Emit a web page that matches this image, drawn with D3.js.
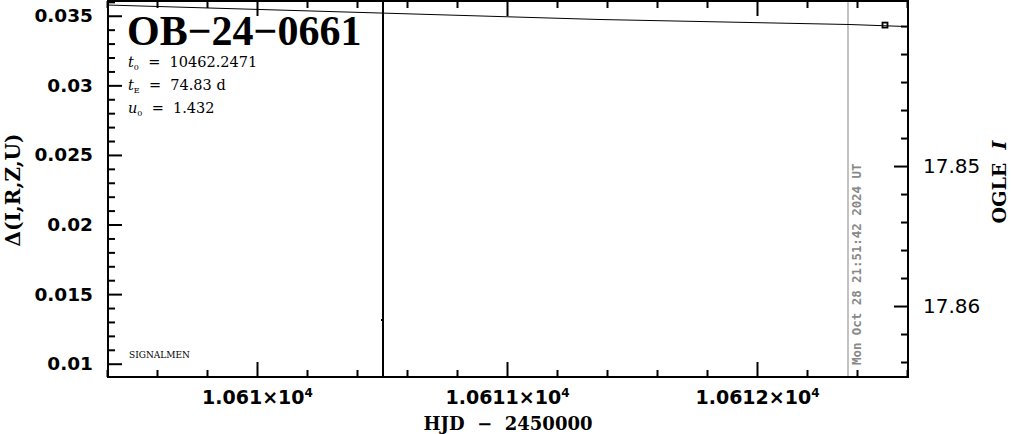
<!DOCTYPE html>
<html>
<head>
<meta charset="utf-8">
<script src="https://cdn.jsdelivr.net/npm/d3@7"></script>
<style>
  html, body { margin: 0; padding: 0; background: #fff; }
  svg { display: block; }
</style>
</head>
<body>
<script>
// ---- data ----
const modelHJD   = [10609.404, 10610.504, 10611.372, 10612.372, 10612.604];
const modelDelta = [0.03577, 0.03519, 0.03473, 0.03437, 0.03422];
const obsHJD   = [10610.504, 10612.512];
const obsDelta = [0.01314, 0.03433];
const obsErr   = [0.03, 0.0];
const xMajorTicks = [10610, 10611, 10612];
const xTickLabels = ["1.061×10", "1.0611×10", "1.0612×10"];
const xTickExp = "4";
const yLeftTicks = [0.01, 0.015, 0.02, 0.025, 0.03, 0.035];
const yLeftLabels = ["0.01", "0.015", "0.02", "0.025", "0.03", "0.035"];
const yRightTicks = [17.85, 17.86];
const yRightLabels = ["17.85", "17.86"];
const nowHJD = 10612.364;
const nowText = "Mon Oct 28 21:51:42 2024 UT";
const eventName = "OB−24−0661";
const paramNames = ["t", "t", "u"];
const paramSubs = ["0", "E", "0"];
const paramValues = ["  =  10462.2471", "  =  74.83 d", "  =  1.432"];

// ---- layout ----
const W = 1011, H = 434;
const L = 108, R = 908, T = 1, B = 377;

const svg = d3.select("body").append("svg").attr("width", W).attr("height", H);

const x = d3.scaleLinear().domain([10609.404, 10612.604]).range([L, R]);
const yL = d3.scaleLinear().domain([0.009045, 0.03606]).range([B, T]);
const yR = d3.scaleLinear().domain([17.86507, 17.83821]).range([B, T]);

const xMinor = d3.range(10609.4, 10612.61, 0.2).filter(v => !xMajorTicks.some(m => Math.abs(m - v) < 1e-6));
const yLMinor = d3.range(0.010, 0.0361, 0.001).filter(v => !yLeftTicks.some(m => Math.abs(m - v) < 1e-7));
const yRMinor = d3.range(17.838, 17.8651, 0.002).filter(v => !yRightTicks.some(m => Math.abs(m - v) < 1e-6));

svg.append("defs").append("clipPath").attr("id", "clip")
  .append("rect").attr("x", L).attr("y", T).attr("width", R - L).attr("height", B - T);

function styleAxis(g) {
  g.select(".domain").remove();
  g.selectAll("line").attr("stroke", "#000").attr("stroke-width", 2);
}

// bottom axis
svg.append("g").attr("transform", `translate(0,${B})`)
  .call(d3.axisBottom(x).tickValues(xMinor).tickSize(-7).tickFormat(""))
  .call(styleAxis);
const xb = svg.append("g").attr("transform", `translate(0,${B})`)
  .call(d3.axisBottom(x).tickValues(xMajorTicks).tickSize(-15).tickPadding(14)
        .tickFormat((d, i) => xTickLabels[i]))
  .call(styleAxis);
xb.selectAll("text")
  .attr("font-family", "DejaVu Sans").attr("font-weight", "bold").attr("font-size", 19)
  .attr("fill", "#000")
  .attr("text-anchor", "middle")
  .each(function (d, i) {
    const t = d3.select(this);
    t.text(null);
    t.append("tspan").text(xTickLabels[i]);
    t.append("tspan").attr("font-size", 12).attr("dy", -7).text(xTickExp);
  });

// top axis (mirrored ticks)
svg.append("g").attr("transform", `translate(0,${T})`)
  .call(d3.axisTop(x).tickValues(xMinor).tickSize(-7).tickFormat(""))
  .call(styleAxis);
svg.append("g").attr("transform", `translate(0,${T})`)
  .call(d3.axisTop(x).tickValues(xMajorTicks).tickSize(-15).tickFormat(""))
  .call(styleAxis);

// left axis
svg.append("g").attr("transform", `translate(${L},0)`)
  .call(d3.axisLeft(yL).tickValues(yLMinor).tickSize(-7).tickFormat(""))
  .call(styleAxis);
const yl = svg.append("g").attr("transform", `translate(${L},0)`)
  .call(d3.axisLeft(yL).tickValues(yLeftTicks).tickSize(-14).tickPadding(15)
        .tickFormat((d, i) => yLeftLabels[i]))
  .call(styleAxis);
yl.selectAll("text")
  .attr("font-family", "DejaVu Sans").attr("font-weight", "bold").attr("font-size", 18.5)
  .attr("fill", "#000");

// right axis
svg.append("g").attr("transform", `translate(${R},0)`)
  .call(d3.axisRight(yR).tickValues(yRMinor).tickSize(-7).tickFormat(""))
  .call(styleAxis);
const yr = svg.append("g").attr("transform", `translate(${R},0)`)
  .call(d3.axisRight(yR).tickValues(yRightTicks).tickSize(-14).tickPadding(15)
        .tickFormat((d, i) => yRightLabels[i]))
  .call(styleAxis);
yr.selectAll("text")
  .attr("font-family", "DejaVu Sans").attr("font-size", 20)
  .attr("fill", "#000");

// plot contents
const plot = svg.append("g").attr("clip-path", "url(#clip)");

// "now" line
plot.append("line")
  .attr("x1", x(nowHJD)).attr("x2", x(nowHJD)).attr("y1", T).attr("y2", B)
  .attr("stroke", "#999").attr("stroke-width", 1.2);

// model curve
const modelData = modelHJD.map((t, i) => [t, modelDelta[i]]);
plot.append("path")
  .datum(modelData)
  .attr("d", d3.line().x(d => x(d[0])).y(d => yL(d[1])))
  .attr("fill", "none").attr("stroke", "#000").attr("stroke-width", 1);

// observations with error bars
const obs = obsHJD.map((t, i) => ({ t, d: obsDelta[i], e: obsErr[i] }));
plot.selectAll(".err").data(obs.filter(o => o.e > 0)).join("line")
  .attr("x1", o => x(o.t)).attr("x2", o => x(o.t))
  .attr("y1", o => yL(o.d - o.e)).attr("y2", o => yL(o.d + o.e))
  .attr("stroke", "#000").attr("stroke-width", 2);
plot.selectAll(".pt").data(obs).join("rect")
  .attr("x", o => x(o.t) - (o.e > 0 ? 2 : 2.5))
  .attr("y", o => yL(o.d) - (o.e > 0 ? 1 : 2.5))
  .attr("width", o => o.e > 0 ? 3 : 5)
  .attr("height", o => o.e > 0 ? 2 : 5)
  .attr("fill", o => o.e > 0 ? "#000" : "none")
  .attr("stroke", "#000").attr("stroke-width", o => o.e > 0 ? 0 : 1.8);

// frame
svg.append("rect").attr("x", L).attr("y", T).attr("width", R - L).attr("height", B - T)
  .attr("fill", "none").attr("stroke", "#000").attr("stroke-width", 2);

// rotated date text
svg.append("text")
  .attr("transform", `translate(${x(nowHJD) + 13},365) rotate(-90)`)
  .attr("font-family", "DejaVu Sans Mono").attr("font-weight", "bold").attr("font-size", 12.4)
  .attr("fill", "#888")
  .text(nowText);

// title and parameters
svg.append("text").attr("x", 127).attr("y", 45)
  .attr("font-family", "Liberation Serif").attr("font-weight", "bold").attr("font-size", 42)
  .attr("fill", "#000").text(eventName);

const baselines = [67, 90, 113];
paramNames.forEach((n, i) => {
  const t = svg.append("text").attr("x", 128).attr("y", baselines[i])
    .attr("font-family", "DejaVu Serif").attr("font-size", 14.5).attr("fill", "#000")
    .attr("xml:space", "preserve");
  t.append("tspan").attr("font-style", "italic").text(n);
  t.append("tspan").attr("font-size", 8).attr("dy", 3).text(paramSubs[i]);
  t.append("tspan").attr("dy", -3).text(paramValues[i]);
});

svg.append("text").attr("x", 129).attr("y", 358)
  .attr("font-family", "DejaVu Serif").attr("font-size", 9).attr("fill", "#000")
  .text("SIGNALMEN");

// axis titles
svg.append("text").attr("x", 508).attr("y", 430).attr("text-anchor", "middle")
  .attr("font-family", "DejaVu Serif").attr("font-weight", "bold").attr("font-size", 18)
  .attr("fill", "#000").attr("xml:space", "preserve")
  .text("HJD  −  2450000");

svg.append("text")
  .attr("transform", `translate(20,190) rotate(-90)`).attr("text-anchor", "middle")
  .attr("font-family", "DejaVu Serif").attr("font-weight", "bold").attr("font-size", 20)
  .attr("fill", "#000")
  .text("Δ(I,R,Z,U)");

const og = svg.append("text")
  .attr("transform", `translate(1006,182) rotate(-90)`).attr("text-anchor", "middle")
  .attr("font-family", "DejaVu Serif").attr("font-weight", "bold").attr("font-size", 19)
  .attr("fill", "#000").attr("xml:space", "preserve");
og.append("tspan").text("OGLE  ");
og.append("tspan").attr("font-style", "italic").text("I");
</script>
</body>
</html>
